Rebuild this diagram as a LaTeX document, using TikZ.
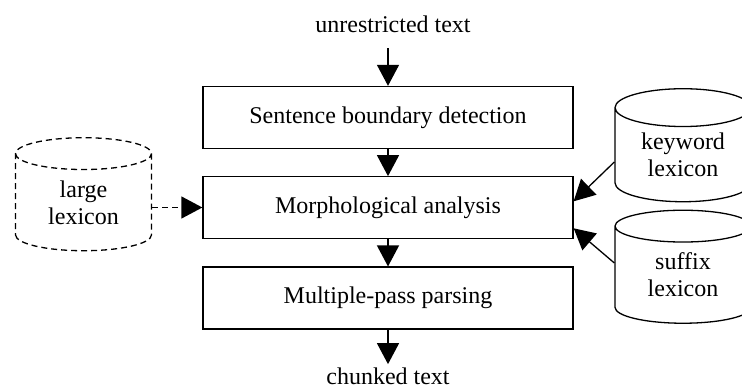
\documentclass[tikz,border=0pt]{standalone}
\usepackage{fontspec}
\setmainfont{Liberation Serif}
\usetikzlibrary{positioning,shapes.geometric,arrows.meta}

\tikzset{
  stage/.style={draw, line width=1.3pt, minimum width=370pt, minimum height=62pt, inner sep=0pt},
  lexicon/.style={cylinder, shape border rotate=90, aspect=0.45, draw, line width=1.3pt,
    minimum width=136pt, minimum height=113pt, inner sep=0pt, align=center},
  io/.style={inner sep=1pt},
  flow/.style={line width=1.3pt, -{Triangle[length=21pt,width=22pt]}},
  dashline/.style={dash pattern=on 6pt off 4pt},
}

\begin{document}
\begin{tikzpicture}[x=1pt, y=-1pt, font=\fontsize{24}{27}\selectfont]
\clip (0,0) rectangle (742,388);

% pipeline
\node[stage] (sbd) at (388,117.5) {Sentence boundary detection};
\node[stage, below=27pt of sbd] (morph) {Morphological analysis};
\node[stage, below=27pt of morph] (parse) {Multiple-pass parsing};

\node[io, anchor=base] (in) at (393,32) {unrestricted text};
\node[io, anchor=base] (out) at (388,384) {chunked text};

% lexicons
\node[lexicon, dashline] (large) at (83.5,202.5) {large\\lexicon};
\node[lexicon] (kw) at (683,155) {keyword\\lexicon};
\node[lexicon] (suf) at (683,275) {suffix\\lexicon};

\draw[flow, shorten <=15pt] (sbd.north |- in.south) -- (sbd.north);
\draw[flow] (sbd) -- (morph);
\draw[flow] (morph) -- (parse);
\draw[flow, shorten >=2pt] (parse.south) -- (parse.south |- out.north);

\draw[flow, dashline] ([yshift=-5pt]large.east) -- ([yshift=-5pt]large.east -| morph.west);
\draw[flow] ([yshift=-7pt]kw.west) -- ([yshift=6.5pt]morph.east);
\draw[flow] ([yshift=12pt]suf.west) -- ([yshift=-20.5pt]morph.east);
\end{tikzpicture}
\end{document}
